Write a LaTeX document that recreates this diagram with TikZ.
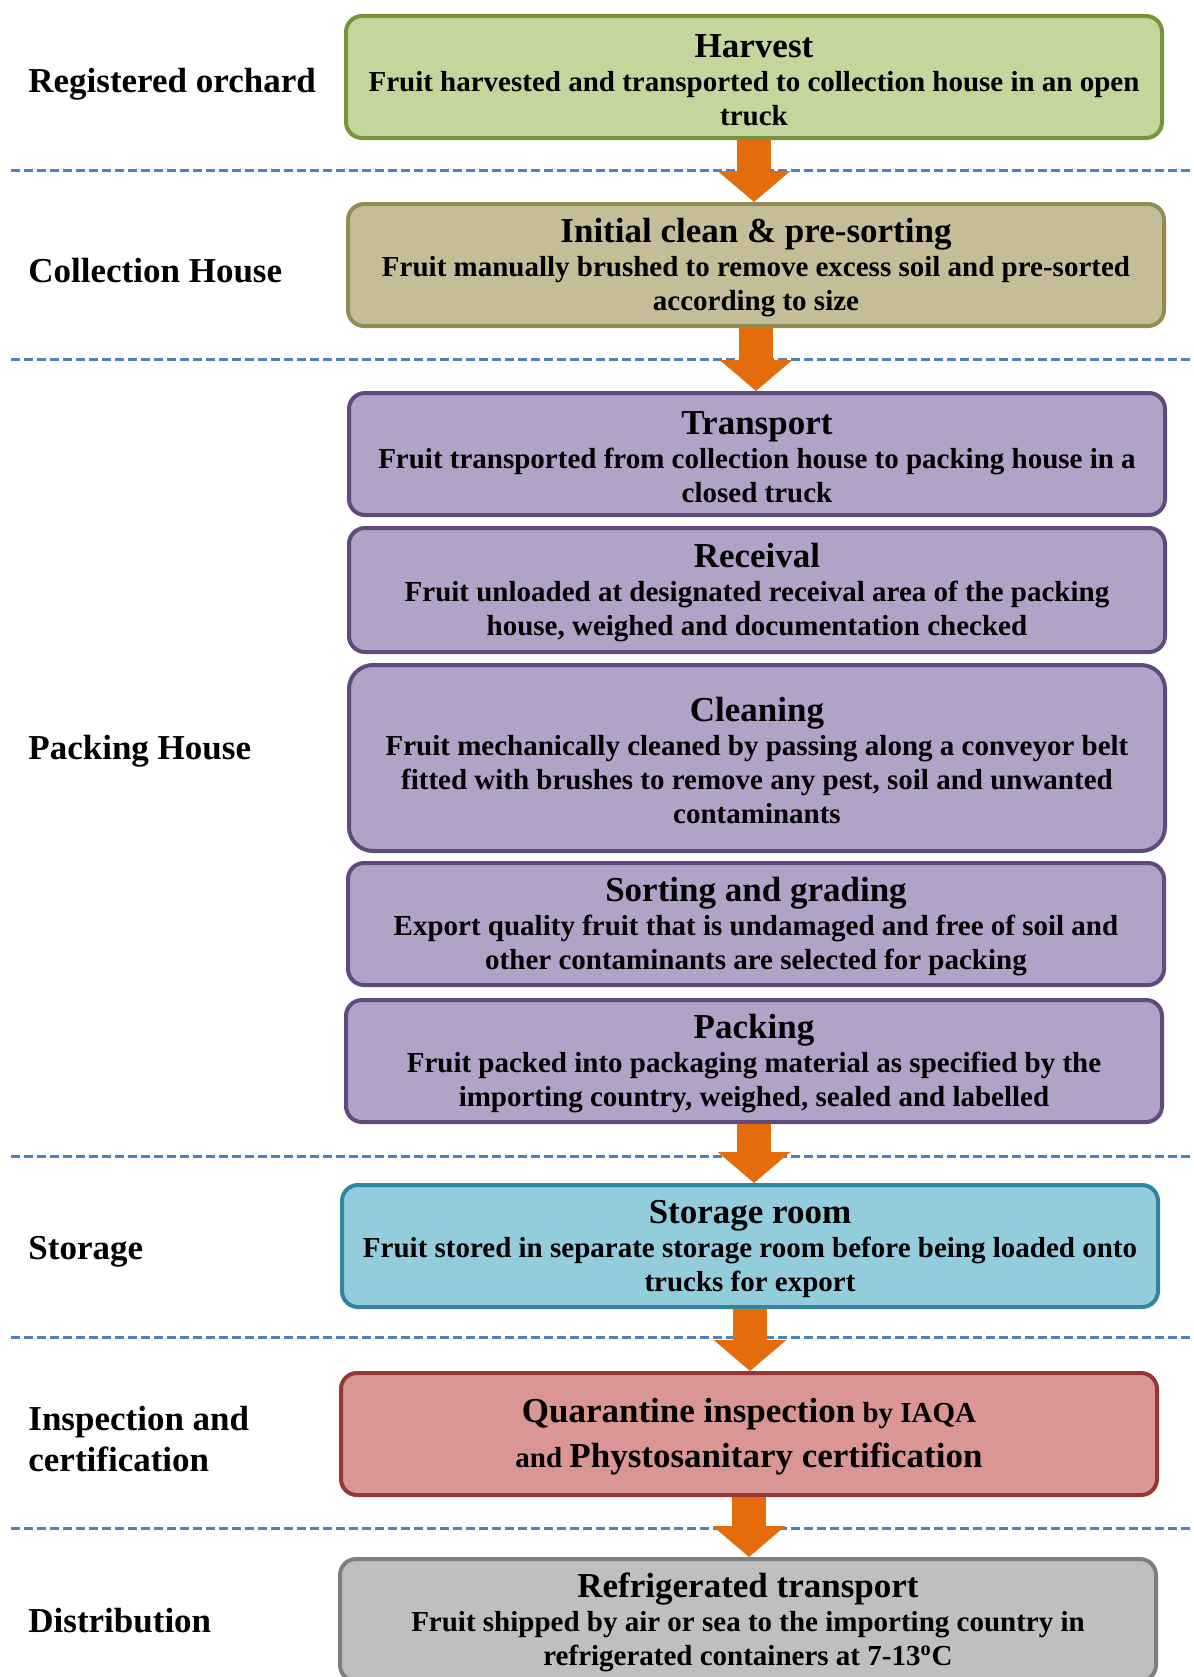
\documentclass[tikz,border=0pt]{standalone}
\usepackage{fontspec}
\setmainfont{Liberation Serif}
\usetikzlibrary{arrows.meta}

\definecolor{harvestfill}{HTML}{C3D69B}
\definecolor{harvestline}{HTML}{77933C}
\definecolor{collectfill}{HTML}{C4BD97}
\definecolor{collectline}{HTML}{948A54}
\definecolor{packfill}{HTML}{B3A2C7}
\definecolor{packline}{HTML}{604A7B}
\definecolor{storefill}{HTML}{93CDDD}
\definecolor{storeline}{HTML}{31859C}
\definecolor{inspectfill}{HTML}{D99694}
\definecolor{inspectline}{HTML}{953735}
\definecolor{distfill}{HTML}{BFBFBF}
\definecolor{distline}{HTML}{7F7F7F}
\definecolor{flowcol}{HTML}{E46C0A}
\definecolor{sepcol}{HTML}{4F81BD}

\newcommand{\stagebody}{\fontsize{14.5pt}{17pt}\bfseries\selectfont}
\newcommand{\stagetitle}{\fontsize{17.5pt}{18pt}\bfseries\selectfont\rule{0pt}{15pt}}
\newcommand{\zonefont}{\fontsize{17.5pt}{20.5pt}\bfseries\selectfont}

\tikzset{
  stage/.style={draw, line width=2pt, rounded corners=8pt, minimum width=408pt,
    minimum height=61pt, align=center, inner sep=2pt, font=\stagebody},
  zone/.style={anchor=west, inner sep=0pt, align=left, font=\zonefont},
  zoneline/.style={draw=sepcol, line width=1.5pt, dash pattern=on 4.5pt off 2pt},
  flow/.style={draw=flowcol, line width=17pt,
    -{Triangle[width=35.5pt, length=15.5pt]}, flowcol},
}

\begin{document}
\begin{tikzpicture}[x=0.5pt, y=-0.5pt]
\useasboundingbox (0,0) rectangle (1194,1677);

% separators between zones
\foreach \yy in {170,359,1156,1337,1528}
  \draw[zoneline] (11,\yy) -- (1194,\yy);

% zone names
\node[zone] (orchardlbl) at (28,84) {Registered orchard};
\node[zone] (collectlbl) at (28,271) {Collection House};
\node[zone] (packlbl) at (28,751) {Packing House};
\node[zone] (storelbl) at (28,1252) {Storage};
\node[zone] (inspectlbl) at (28,1439) {Inspection and\\certification};
\node[zone] (distlbl) at (28,1621) {Distribution};

% stages
\node[stage, fill=harvestfill, draw=harvestline] (harvest) at (754,77)
  {{\stagetitle Harvest}\\Fruit harvested and transported to collection house in an open\\truck};
\node[stage, fill=collectfill, draw=collectline] (preclean) at (756,265)
  {{\stagetitle Initial clean \& pre-sorting}\\Fruit manually brushed to remove excess soil and pre-sorted\\according to size};
\node[stage, fill=packfill, draw=packline] (transport) at (757,454)
  {{\stagetitle Transport}\\Fruit transported from collection house to packing house in a\\closed truck};
\node[stage, fill=packfill, draw=packline, minimum height=62pt] (receival) at (757,590)
  {{\stagetitle Receival}\\Fruit unloaded at designated receival area of the packing\\house, weighed and documentation checked};
\node[stage, fill=packfill, draw=packline, minimum height=93pt, rounded corners=12pt] (cleaning) at (757,758)
  {{\stagetitle Cleaning}\\Fruit mechanically cleaned by passing along a conveyor belt\\fitted with brushes to remove any pest, soil and unwanted\\contaminants};
\node[stage, fill=packfill, draw=packline] (sorting) at (756,924)
  {{\stagetitle Sorting and grading}\\Export quality fruit that is undamaged and free of soil and\\other contaminants are selected for packing};
\node[stage, fill=packfill, draw=packline] (packing) at (754,1061)
  {{\stagetitle Packing}\\Fruit packed into packaging material as specified by the\\importing country, weighed, sealed and labelled};
\node[stage, fill=storefill, draw=storeline] (storage) at (750,1246)
  {{\stagetitle Storage room}\\Fruit stored in separate storage room before being loaded onto\\trucks for export};
\node[stage, fill=inspectfill, draw=inspectline] (quarantine) at (749,1434)
  {{\stagetitle Quarantine inspection} by IAQA\\[3pt]and {\stagetitle Phystosanitary certification}};
\node[stage, fill=distfill, draw=distline] (refrig) at (748,1620)
  {{\stagetitle Refrigerated transport}\\Fruit shipped by air or sea to the importing country in\\refrigerated containers at 7-13\textsuperscript{o}C};

% flow arrows
\draw[flow] (harvest.south) -- (harvest.south |- preclean.north);
\draw[flow] (preclean.south) -- (preclean.south |- transport.north);
\draw[flow] (packing.south) -- (packing.south |- storage.north);
\draw[flow] (storage.south) -- (storage.south |- quarantine.north);
\draw[flow] (quarantine.south) -- (quarantine.south |- refrig.north);
\end{tikzpicture}
\end{document}
